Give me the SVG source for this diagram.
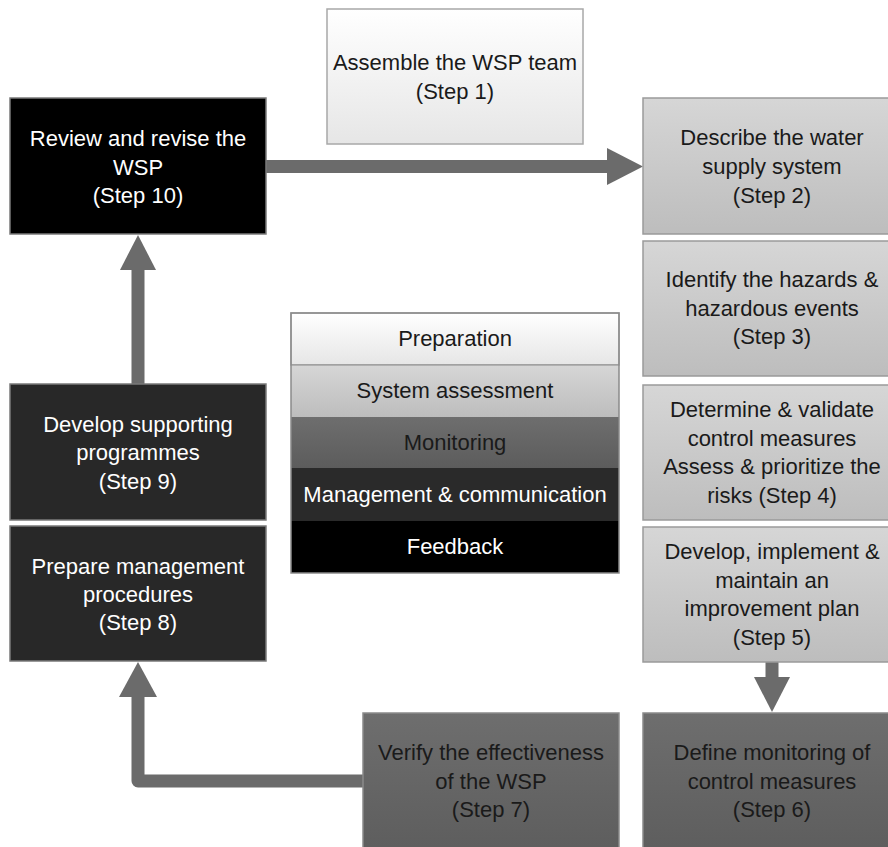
<svg xmlns="http://www.w3.org/2000/svg" width="888" height="847" viewBox="0 0 888 847">
<defs>
<linearGradient id="gWhite" x1="0" y1="0" x2="0" y2="1"><stop offset="0" stop-color="#ffffff"/><stop offset="1" stop-color="#e6e6e6"/></linearGradient>
<linearGradient id="gLight" x1="0" y1="0" x2="0" y2="1"><stop offset="0" stop-color="#d6d6d6"/><stop offset="1" stop-color="#bdbdbd"/></linearGradient>
<linearGradient id="gMid" x1="0" y1="0" x2="0" y2="1"><stop offset="0" stop-color="#6e6e6e"/><stop offset="1" stop-color="#5c5c5c"/></linearGradient>
<style>
text{font-family:"Liberation Sans",Arial,sans-serif;font-size:22px;text-anchor:middle;}
.dk{fill:#1a1a1a;}
.lt{fill:#ffffff;}
.b1{fill:url(#gWhite);stroke:#a8a8a8;stroke-width:1.5;}
.b2{fill:url(#gLight);stroke:#9a9a9a;stroke-width:1.5;}
.b3{fill:url(#gMid);stroke:#8a8a8a;stroke-width:1.5;}
.b4{fill:#282828;stroke:#7a7a7a;stroke-width:1.5;}
.b5{fill:#000000;stroke:#7a7a7a;stroke-width:1.5;}
.shaft{fill:none;stroke:#6b6b6b;stroke-width:13;stroke-linejoin:round;}
.head{fill:#6b6b6b;}
</style>
</defs>
<rect width="888" height="847" fill="#ffffff"/>

<g id="connectors">
<path class="shaft" d="M266,166.5 H608"/>
<polygon class="head" points="607,148 643,166.5 607,185"/>
<path class="shaft" d="M772,662 V678"/>
<polygon class="head" points="754,677 790,677 772,712"/>
<path class="shaft" d="M363,781 H138 V696"/>
<polygon class="head" points="119,697 157,697 138,662"/>
<path class="shaft" d="M138,384 V269"/>
<polygon class="head" points="120,270 156,270 138,235"/>
</g>

<g id="step1">
<rect class="b1" x="327" y="9" width="256" height="135"/>
<text class="dk" x="455" y="70">Assemble the WSP team</text>
<text class="dk" x="455" y="98.5">(Step 1)</text>
</g>

<g id="step10">
<rect class="b5" x="10" y="98" width="256" height="136"/>
<text class="lt" x="138" y="146">Review and revise the</text>
<text class="lt" x="138" y="174.5">WSP</text>
<text class="lt" x="138" y="203">(Step 10)</text>
</g>

<g id="step2">
<rect class="b2" x="643" y="98" width="258" height="136"/>
<text class="dk" x="772" y="145">Describe the water</text>
<text class="dk" x="772" y="174">supply system</text>
<text class="dk" x="772" y="203">(Step 2)</text>
</g>

<g id="step3">
<rect class="b2" x="643" y="241" width="258" height="135"/>
<text class="dk" x="772" y="287">Identify the hazards &amp;</text>
<text class="dk" x="772" y="315.5">hazardous events</text>
<text class="dk" x="772" y="344">(Step 3)</text>
</g>

<g id="step4">
<rect class="b2" x="643" y="385" width="258" height="135"/>
<text class="dk" x="772" y="417">Determine &amp; validate</text>
<text class="dk" x="772" y="445.5">control measures</text>
<text class="dk" x="772" y="474">Assess &amp; prioritize the</text>
<text class="dk" x="772" y="502.5">risks (Step 4)</text>
</g>

<g id="step5">
<rect class="b2" x="643" y="527" width="258" height="135"/>
<text class="dk" x="772" y="559">Develop, implement &amp;</text>
<text class="dk" x="772" y="587.5">maintain an</text>
<text class="dk" x="772" y="616">improvement plan</text>
<text class="dk" x="772" y="644.5">(Step 5)</text>
</g>

<g id="step6">
<rect class="b3" x="643" y="713" width="258" height="150"/>
<text class="dk" x="772" y="760">Define monitoring of</text>
<text class="dk" x="772" y="788.5">control measures</text>
<text class="dk" x="772" y="817">(Step 6)</text>
</g>

<g id="step7">
<rect class="b3" x="363" y="713" width="256" height="150"/>
<text class="dk" x="491" y="760">Verify the effectiveness</text>
<text class="dk" x="491" y="788.5">of the WSP</text>
<text class="dk" x="491" y="817">(Step 7)</text>
</g>

<g id="step8">
<rect class="b4" x="10" y="526" width="256" height="135"/>
<text class="lt" x="138" y="574">Prepare management</text>
<text class="lt" x="138" y="601.5">procedures</text>
<text class="lt" x="138" y="629.5">(Step 8)</text>
</g>

<g id="step9">
<rect class="b4" x="10" y="384" width="256" height="136"/>
<text class="lt" x="138" y="432">Develop supporting</text>
<text class="lt" x="138" y="460">programmes</text>
<text class="lt" x="138" y="489">(Step 9)</text>
</g>

<g id="legend">
<rect class="b1" x="291" y="313" width="328" height="52"/>
<rect x="291" y="365" width="328" height="52" fill="url(#gLight)"/>
<rect x="291" y="417" width="328" height="51" fill="url(#gMid)"/>
<rect x="291" y="468" width="328" height="53" fill="#2a2a2a"/>
<rect x="291" y="521" width="328" height="52" fill="#000000"/>
<line x1="291" y1="365" x2="619" y2="365" stroke="#8a8a8a" stroke-width="1"/>
<rect x="291" y="313" width="328" height="260" fill="none" stroke="#8a8a8a" stroke-width="1.5"/>
<text class="dk" x="455" y="346">Preparation</text>
<text class="dk" x="455" y="398">System assessment</text>
<text class="dk" x="455" y="450">Monitoring</text>
<text class="lt" x="455" y="502">Management &amp; communication</text>
<text class="lt" x="455" y="554">Feedback</text>
</g>
</svg>
